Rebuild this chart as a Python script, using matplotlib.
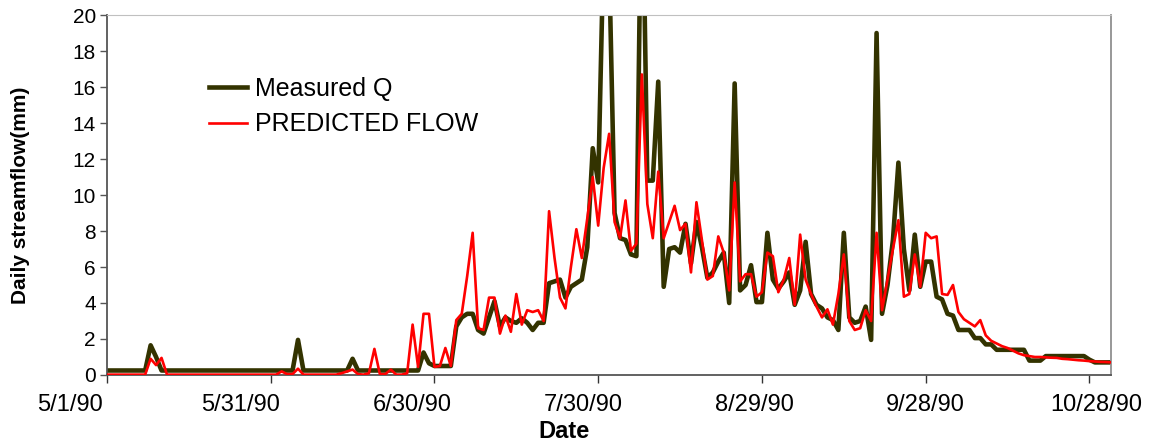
#!/usr/bin/env python
# Daily streamflow: measured vs predicted, May - Oct 1990

import numpy as np
import pandas as pd
import matplotlib
matplotlib.use('Agg')
import matplotlib.pyplot as plt
import matplotlib.transforms as mtransforms

start_date = '1990-05-01'

# measured daily flow (mm), one value per day from 5/1/90
measured_q = ([0.25] * 8 + [1.65, 1.0] + [0.25] * 25 + [1.95] + [0.25] * 9 +
              [0.9] + [0.25] * 12 + [1.25, 0.65, 0.5, 0.5, 0.5, 0.5] +
              [2.7, 3.2, 3.4, 3.4, 2.5, 2.3, 3.2, 4.1, 2.7, 3.2,
               3.0, 2.9, 3.15, 2.9, 2.5, 2.9, 2.9,
               5.1, 5.2, 5.3, 4.3, 4.9, 5.1, 5.3, 7.1, 12.6, 10.7,
               24.0, 23.0, 9.0, 7.6, 7.5, 6.7, 6.6, 30.0, 10.8, 10.8,
               16.3, 4.9, 7.0, 7.1, 6.8, 8.4, 6.2, 8.5, 7.1, 5.4,
               5.7, 6.3, 6.8, 4.0, 16.2, 4.7, 5.0, 6.1, 4.05, 4.05,
               7.9, 5.3, 4.8, 5.2, 5.7, 3.9, 4.7, 7.4, 4.5, 3.9,
               3.7, 3.2, 3.05, 2.5, 7.9, 3.2, 2.9, 3.0, 3.8, 1.95,
               19.0, 3.4, 5.0, 7.5, 11.8, 7.0, 4.7, 7.8, 4.9, 6.3,
               6.3, 4.35, 4.2, 3.4, 3.3, 2.5, 2.5, 2.5, 2.05, 2.05,
               1.7, 1.7] + [1.4] * 6 + [0.8] * 3 + [1.05] * 8 + [0.85] +
              [0.7] * 4)

# predicted daily flow (mm)
predicted_flow = ([0.02] * 8 + [0.9, 0.55, 0.95] + [0.02] * 21 +
                  [0.2, 0.05, 0.05, 0.35] + [0.02] * 7 +
                  [0.1, 0.2, 0.3, 0.05, 0.02, 0.1, 1.45, 0.05, 0.05, 0.3,
                   0.02, 0.02, 0.1,
                   2.8, 0.45, 3.4, 3.4, 0.45, 0.5, 1.5, 0.5, 3.05, 3.4,
                   5.5, 7.9, 2.6, 2.5, 4.3, 4.3, 2.3, 3.3, 2.4, 4.5,
                   2.8, 3.6, 3.5, 3.6, 3.0,
                   9.1, 6.5, 4.3, 3.7, 6.0, 8.1, 6.5, 8.7, 11.0, 8.3,
                   11.5, 13.4, 8.5, 7.6, 9.7, 6.9, 7.3, 16.7, 9.5, 7.6,
                   11.3, 7.6, 8.5, 9.4, 8.05, 8.4, 5.7, 9.6, 7.5, 5.3,
                   5.5, 7.7, 6.8, 4.7, 10.7, 5.2, 5.6, 5.6, 4.35, 4.6,
                   6.8, 6.6, 4.6, 5.3, 6.5, 3.9, 7.8, 5.3, 4.5, 3.8,
                   3.2, 3.65, 2.8, 4.5, 6.7, 3.0, 2.5, 2.6, 3.6, 3.0,
                   7.9, 3.6, 5.3, 7.0, 8.6, 4.35, 4.5, 6.7, 4.9, 7.9,
                   7.6, 7.7, 4.5, 4.45, 5.0, 3.5, 3.1, 2.9, 2.7, 3.05,
                   2.2, 1.9, 1.75, 1.6, 1.5, 1.35, 1.2, 1.1, 1.05, 1.0,
                   1.0, 0.98, 0.96, 0.95, 0.9, 0.88, 0.85, 0.82, 0.8, 0.77,
                   0.75, 0.73, 0.72, 0.7])

tick_labels = ['5/1/90', '5/31/90', '6/30/90', '7/30/90', '8/29/90',
               '9/28/90', '10/28/90']


def main():
    plt.rcParams['font.family'] = ['Liberation Sans', 'DejaVu Sans']

    dates = pd.date_range(start_date, periods=len(measured_q), freq='D')
    tick_dates = pd.date_range(start_date, periods=len(tick_labels),
                               freq='30D')

    fig = plt.figure(figsize=(11.6, 4.42), dpi=100)
    ax = fig.add_axes([0.0922, 0.1516, 0.8658, 0.8144])

    ax.plot(dates, measured_q, color='#333300', lw=3.3,
            solid_joinstyle='round', label='Measured Q', zorder=2)
    ax.plot(dates, predicted_flow, color='#ff0000', lw=1.9,
            solid_joinstyle='round', label='PREDICTED FLOW', zorder=3)

    ax.set_ylim(0, 20)
    ax.set_yticks(np.arange(0, 21, 2))
    ax.set_xlim(dates[0], pd.Timestamp('1990-11-01'))
    ax.set_xticks(tick_dates)
    ax.set_xticklabels(tick_labels)

    ax.tick_params(axis='y', labelsize=15, length=5, width=1,
                   color='#555555', pad=3)
    ax.tick_params(axis='x', labelsize=17, length=6, width=1,
                   color='#333333', pad=8)
    # the category labels sit on a slightly wider spacing than the ticks
    for i, lab in enumerate(ax.get_xticklabels()):
        dx = (-37 + 7.3 * i) / 100.0
        lab.set_transform(lab.get_transform() +
                          mtransforms.ScaledTranslation(dx, 0,
                                                        fig.dpi_scale_trans))

    for side in ('left', 'bottom'):
        ax.spines[side].set_color('#555555')
        ax.spines[side].set_linewidth(1.3)
    ax.spines['top'].set_color('#c0c0c0')
    ax.spines['right'].set_color('#909090')
    ax.spines['right'].set_linewidth(1.3)

    ax.set_xlabel('Date', fontsize=17, fontweight='bold')
    ax.xaxis.set_label_coords(0.455, -0.125)
    ax.set_ylabel('Daily streamflow(mm)', fontsize=15, fontweight='bold')
    ax.yaxis.set_label_coords(-0.077, 0.5)

    ax.legend(loc='upper left', bbox_to_anchor=(0.0916, 0.855),
              frameon=False, fontsize=18, handlelength=1.52,
              handletextpad=0.32, labelspacing=0.45, borderaxespad=0)

    plt.savefig('out.png', dpi=100)


if __name__ == '__main__':
    main()
